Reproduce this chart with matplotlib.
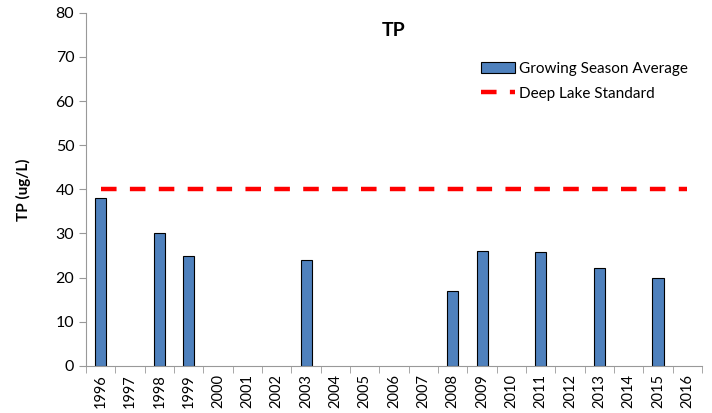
import matplotlib.pyplot as plt
import numpy as np

years = [str(y) for y in range(1996, 2017)]
tp = [38, np.nan, 30, 25, np.nan, np.nan, np.nan, 24, np.nan, np.nan, np.nan, np.nan,
      17, 26, np.nan, 25.8, np.nan, 22.1, np.nan, 19.9, np.nan]
standard = [40] * len(years)

plt.rcParams['font.family'] = ['Lato', 'DejaVu Sans']

fig = plt.figure(figsize=(7.12, 4.13), dpi=100)
ax = fig.add_axes([0.121, 0.114, 0.865, 0.855])

x = np.arange(len(years))
bars = ax.bar(x, tp, width=0.38, color='#4f81bd', edgecolor='black', linewidth=0.8,
              label='Growing Season Average')
line, = ax.plot(x, standard, color='red', linestyle=(0, (3.5, 3)), linewidth=3.2,
                label='Deep Lake Standard')

ax.set_xlim(-0.5, len(years) - 0.5)
ax.set_ylim(0, 80)
ax.set_yticks(range(0, 81, 10))
ax.set_xticks(x)
ax.set_xticklabels(years, rotation=90, fontsize=10.5)
ax.set_xticks(np.arange(-0.5, len(years), 1), minor=True)
ax.tick_params(axis='x', which='major', length=0, pad=6)
ax.tick_params(axis='x', which='minor', length=5, color='#999999')
ax.tick_params(axis='y', length=5, color='#999999', labelsize=11.5)

for s in ['top', 'right']:
    ax.spines[s].set_visible(False)
for s in ['left', 'bottom']:
    ax.spines[s].set_color('#999999')

ax.set_ylabel('TP (ug/L)', fontsize=11, fontweight='bold', labelpad=18)
ax.set_title('TP', fontsize=14, fontweight='bold', y=0.91)
ax.legend([bars, line], ['Growing Season Average', 'Deep Lake Standard'],
          loc='upper right', bbox_to_anchor=(1.0, 0.9), frameon=False, fontsize=11,
          handlelength=2.2, handletextpad=0.3, labelspacing=0.7)

plt.savefig('out.png', dpi=100)
